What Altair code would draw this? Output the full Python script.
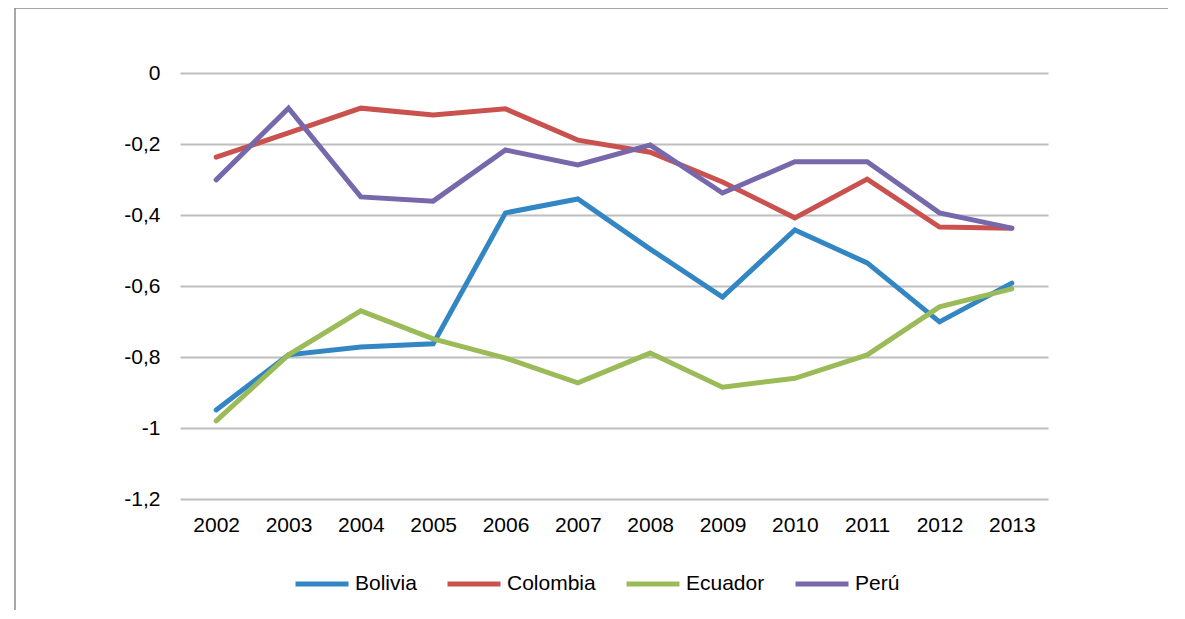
import altair as alt
import pandas as pd

years = ["2002", "2003", "2004", "2005", "2006", "2007", "2008", "2009", "2010", "2011", "2012", "2013"]
bolivia = [-0.949, -0.794, -0.772, -0.763, -0.394, -0.355, -0.496, -0.631, -0.442, -0.535, -0.701, -0.592]
colombia = [-0.237, -0.169, -0.099, -0.118, -0.101, -0.189, -0.223, -0.307, -0.408, -0.299, -0.434, -0.437]
ecuador = [-0.980, -0.794, -0.670, -0.749, -0.803, -0.873, -0.789, -0.885, -0.860, -0.794, -0.659, -0.608]
peru = [-0.301, -0.099, -0.349, -0.361, -0.217, -0.259, -0.203, -0.338, -0.250, -0.250, -0.394, -0.437]

series_names = ["Bolivia", "Colombia", "Ecuador", "Perú"]
series_colors = ["#3286C3", "#C9524F", "#9BBB59", "#7767AB"]
y_ticks = [0, -0.2, -0.4, -0.6, -0.8, -1.0, -1.2]

rows = []
for name, vals in zip(series_names, [bolivia, colombia, ecuador, peru]):
    for yr, v in zip(years, vals):
        rows.append({"year": yr, "value": v, "country": name})
df = pd.DataFrame(rows)

FONT = "Liberation Sans"
FS = 21

lines = alt.Chart(df).mark_line(strokeWidth=5, strokeCap="round", strokeJoin="miter").encode(
    x=alt.X("year:O", sort=years, scale=alt.Scale(type="point", padding=0.5),
            axis=alt.Axis(title=None, labelAngle=0, ticks=False, domain=False, grid=False,
                          labelFontSize=FS, labelPadding=15, labelColor="#000000", labelFont=FONT)),
    y=alt.Y("value:Q", scale=alt.Scale(domain=[-1.2, 0], nice=False),
            axis=alt.Axis(title=None, values=y_ticks, ticks=False, domain=False,
                          labelExpr="replace(replace(format(datum.value, '.1~f'), '.', ','), '\u2212', '-')",
                          gridColor="#BEBEBE", gridWidth=2, labelFontSize=FS, labelPadding=20,
                          labelColor="#000000", labelFont=FONT)),
    color=alt.Color("country:N", sort=series_names,
                    scale=alt.Scale(domain=series_names, range=series_colors),
                    legend=alt.Legend(title=None, orient="none", direction="horizontal",
                                      legendX=113, legendY=482, symbolType="stroke",
                                      symbolSize=2809, symbolStrokeWidth=5,
                                      labelFontSize=FS, labelFont=FONT, labelColor="#000000",
                                      labelOffset=4, columnPadding=20)),
    order=alt.value(0),
)

frame = alt.Chart(pd.DataFrame({"k": [0]})).mark_rect(
    fill=None, stroke="#8A8A8A", strokeWidth=1.5, clip=False
).encode(
    x=alt.value(-165), x2=alt.value(1100), y=alt.value(-65), y2=alt.value(700)
)

chart = alt.layer(frame, lines).properties(
    width=868, height=426,
    padding={"left": 172, "top": 65, "right": 120, "bottom": 111},
    autosize=alt.AutoSizeParams(type="none"),
).configure(background="white").configure_view(stroke=None)

chart.save("out.html", embed_options={"renderer": "svg", "actions": False})
